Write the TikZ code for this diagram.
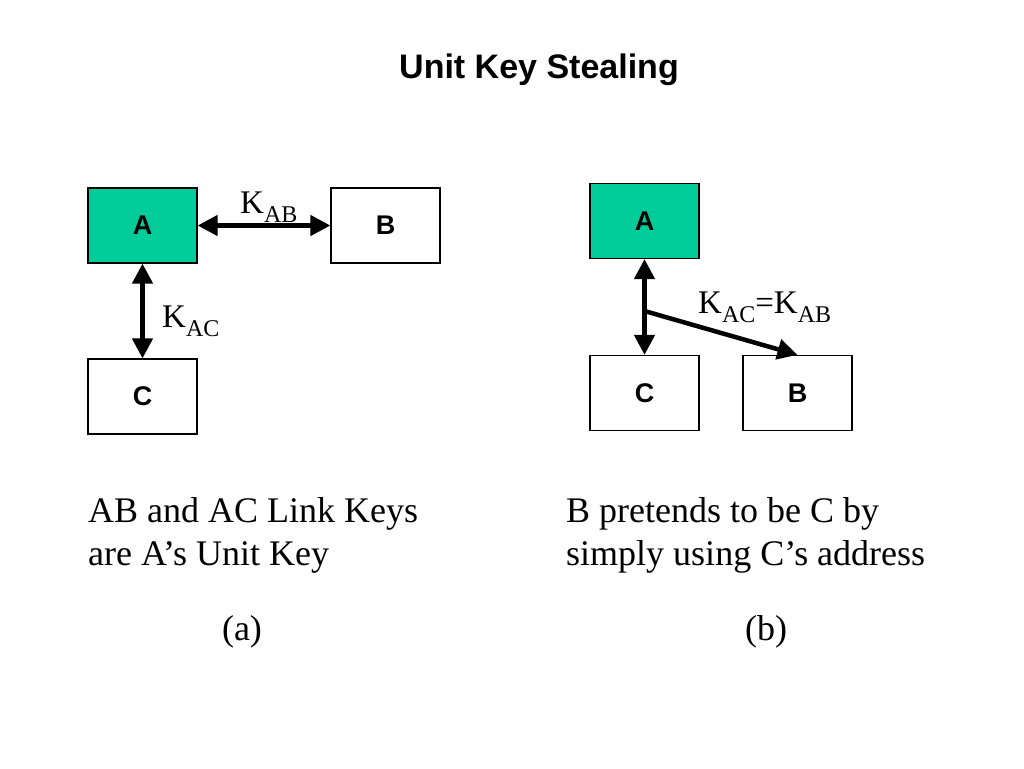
\documentclass[tikz,border=0pt]{standalone}
\usepackage{fontspec}
\setmainfont{Liberation Serif}
\setsansfont{Liberation Sans}
\usetikzlibrary{arrows.meta}
\definecolor{teal}{HTML}{00CC99}
\newcommand{\kk}[1]{K\raisebox{-0.28em}{\fontsize{24}{24}\selectfont #1}}
\tikzset{
  box/.style={draw=black, line width=1.2pt, minimum width=109pt, minimum height=75pt, inner sep=0pt, font=\sffamily\bfseries\fontsize{27}{27}\selectfont},
  keyed/.style={box, fill=teal},
  link/.style={line width=4.5pt, -{Triangle[length=20pt,width=20pt]}},
  dlink/.style={line width=4.5pt, {Triangle[length=20pt,width=20pt]}-{Triangle[length=20pt,width=20pt]}},
  lbl/.style={font=\fontsize{33}{38}\selectfont, inner sep=0pt, anchor=base west},
  body/.style={font=\fontsize{36}{43}\selectfont, inner sep=0pt, anchor=base west},
}
\begin{document}
\begin{tikzpicture}[x=1pt,y=-1pt]
\useasboundingbox[fill=white] (0,0) rectangle (1024,768);
\node[font=\sffamily\bfseries\fontsize{34}{34}\selectfont, inner sep=0pt, anchor=base] (title) at (539,78) {Unit Key Stealing};
% (a)
\node[keyed] (aA) at (142.5,225.5) {A};
\node[box] (aB) at (385.5,225.5) {B};
\node[box] (aC) at (142.5,396.5) {C};
\draw[dlink] (aA.east) -- (aB.west);
\draw[dlink] (aA.south) -- (aC.north);
\node[lbl] (kab) at (240,213) {\kk{AB}};
\node[lbl] (kac) at (162,327) {\kk{AC}};
% (b)
\node[keyed] (bA) at (644.5,221) {A};
\node[box] (bC) at (644.5,393) {C};
\node[box] (bB) at (797.5,393) {B};
\coordinate (bj) at (644.5,311);
\draw[dlink] (bA.south) -- (bC.north);
\draw[link] (bj) -- (bB.north);
\node[lbl] (kk) at (698,313) {\kk{AC}=\kk{AB}};
% texts
\node[body] (ta1) at (88,522) {AB and AC Link Keys};
\node[body] (ta2) at (88,565) {are A’s Unit Key};
\node[body, anchor=base] (capa) at (242,640) {(a)};
\node[body] (tb1) at (566,522) {B pretends to be C by};
\node[body] (tb2) at (566,565) {simply using C’s address};
\node[body, anchor=base] (capb) at (766,640) {(b)};
\end{tikzpicture}
\end{document}
